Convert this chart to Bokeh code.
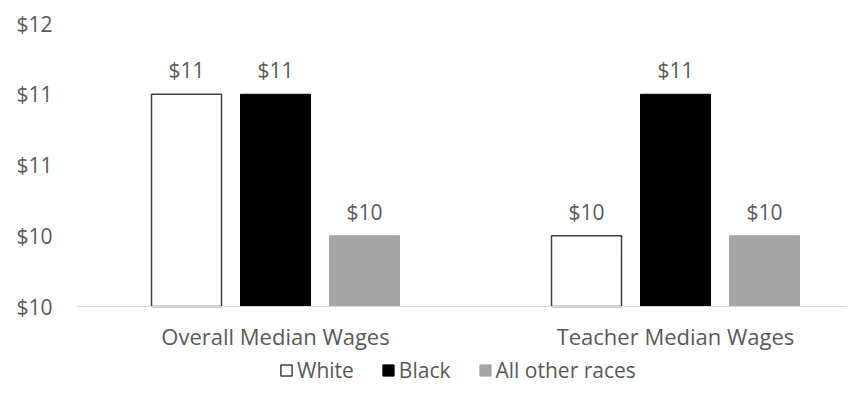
from bokeh.plotting import figure
from bokeh.models import (ColumnDataSource, FixedTicker, NumeralTickFormatter,
                          Legend, LegendItem, Range1d)
from bokeh.core.properties import value
from bokeh.embed import file_html
from bokeh.resources import INLINE

# ---- data ----
categories = ["Overall Median Wages", "Teacher Median Wages"]
series = ["White", "Black", "All other races"]
white_vals = [11.1, 10.1]
black_vals = [11.1, 11.1]
other_vals = [10.1, 10.1]
y_ticks = [9.6, 10.1, 10.6, 11.1, 11.6]
y_base = 9.6

FONT = "Open Sans"
TXT = "#595959"
FS = "21px"

p = figure(width=847, height=384, output_backend="svg", toolbar_location=None,
           x_range=Range1d(-0.4975, 1.43), y_range=Range1d(9.049, 11.6),
           min_border_left=76, min_border_right=0, min_border_top=23,
           min_border_bottom=0, frame_width=771, frame_height=361)
p.outline_line_color = None
p.xgrid.visible = False
p.ygrid.visible = False

xs = list(range(len(categories)))
offsets = [-0.2225, 0.0, 0.2225]
bw = 0.175
styles = [
    dict(fill_color="white", line_color="#404040", line_width=1.5),
    dict(fill_color="black", line_color="black", line_width=1),
    dict(fill_color="#a5a5a5", line_color="#a5a5a5", line_width=1),
]
vals_list = [white_vals, black_vals, other_vals]
items = []
for s, vals, off, st in zip(series, vals_list, offsets, styles):
    src = ColumnDataSource(dict(x=[x + off for x in xs], top=vals,
                                label=["$%d" % round(v) for v in vals]))
    r = p.vbar(x="x", top="top", bottom=y_base, width=bw, source=src, **st)
    p.text(x="x", y="top", text="label", source=src, text_align="center",
           text_baseline="middle", y_offset=-24, text_color=TXT,
           text_font=value(FONT), text_font_size=FS)
    items.append(LegendItem(label=s, renderers=[r]))

# axes
p.yaxis.ticker = FixedTicker(ticks=y_ticks)
p.yaxis.formatter = NumeralTickFormatter(format="$0")
p.yaxis.axis_line_color = None
p.yaxis.major_tick_line_color = None
p.yaxis.minor_tick_line_color = None
p.yaxis.major_label_standoff = 18
p.yaxis.major_label_text_font = FONT
p.yaxis.major_label_text_font_size = FS
p.yaxis.major_label_text_color = TXT

p.xaxis.fixed_location = y_base
p.xaxis.ticker = FixedTicker(ticks=xs)
p.xaxis.major_label_overrides = {i: c for i, c in enumerate(categories)}
p.xaxis.axis_line_color = "#d9d9d9"
p.xaxis.axis_line_width = 1
p.xaxis.major_tick_line_color = None
p.xaxis.minor_tick_line_color = None
p.xaxis.major_label_standoff = 8
p.xaxis.major_label_text_font = FONT
p.xaxis.major_label_text_font_size = "22px"
p.xaxis.major_label_text_color = TXT

legend = Legend(items=items, orientation="horizontal", location=(203, 0),
                glyph_width=14, glyph_height=14, label_standoff=4, spacing=27,
                padding=0, margin=0, border_line_color=None,
                label_text_font=FONT, label_text_font_size=FS,
                label_text_color=TXT, background_fill_alpha=0)
p.add_layout(legend, "center")

open("out.html", "w").write(file_html(p, INLINE))
